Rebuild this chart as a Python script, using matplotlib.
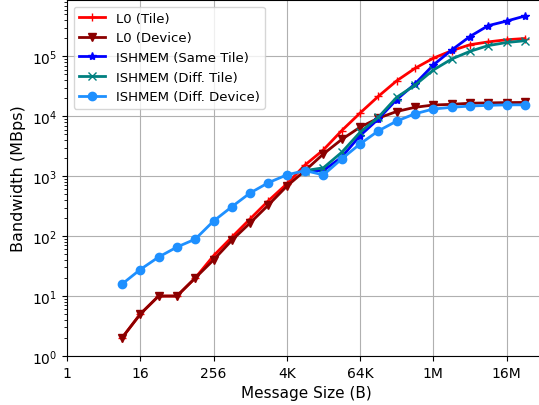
import matplotlib
matplotlib.use("Agg")
import matplotlib.pyplot as plt
from matplotlib.ticker import FixedLocator, FixedFormatter, NullLocator

# message sizes: 8 B .. 32 MB (powers of two)
sizes = [2 ** k for k in range(3, 26)]
ishmem_sizes = [2 ** k for k in range(13, 26)]

l0_tile = [2, 5, 10, 10, 20, 47, 96, 194, 390, 744, 1540, 2750, 5760, 11300,
           21500, 39000, 63000, 93000, 124000, 156000, 174000, 189000, 198000]
l0_device = [2, 5, 10, 10, 20, 40, 85, 166, 331, 680, 1240, 2350, 4100, 6570,
             9300, 12000, 14100, 15400, 15800, 16500, 16700, 16900, 17000]
ishmem_same_tile = [1240, 1240, 2080, 4740, 9000, 19000, 34600, 71600,
                    127000, 214000, 325000, 387000, 470000]
ishmem_diff_tile = [1240, 1380, 2500, 5400, 9600, 20700, 33000, 59000,
                    90000, 121000, 151000, 170000, 182000]
ishmem_diff_device = [15.8, 27.7, 44.7, 65.6, 89, 178, 309, 525, 780, 1050,
                      1240, 1050, 1940, 3450, 5700, 8300, 11000, 13200, 14100,
                      14800, 15200, 15500, 15500]

xtick_vals = [2 ** k for k in range(0, 25, 4)]
xtick_labels = ["1", "16", "256", "4K", "64K", "1M", "16M"]

fig = plt.figure(figsize=(5.39, 4.06), dpi=100)
ax = fig.add_axes([67 / 539, 49 / 406, 478 / 539, 356 / 406])

lw = 2
ax.plot(sizes, l0_tile, color="red", marker="+", lw=lw, label="L0 (Tile)")
ax.plot(sizes, l0_device, color="darkred", marker="v", lw=lw, label="L0 (Device)")
ax.plot(ishmem_sizes, ishmem_same_tile, color="blue", marker="*", lw=lw,
        label="ISHMEM (Same Tile)")
ax.plot(ishmem_sizes, ishmem_diff_tile, color="teal", marker="x", lw=lw,
        label="ISHMEM (Diff. Tile)")
ax.plot(sizes, ishmem_diff_device, color="#1e90ff", marker="o", lw=lw,
        label="ISHMEM (Diff. Device)")

ax.set_xscale("log", base=2)
ax.set_yscale("log")
ax.set_xlim(1, 2 ** 26.1)
ax.set_ylim(1, 8.7e5)
ax.xaxis.set_major_locator(FixedLocator(xtick_vals))
ax.xaxis.set_major_formatter(FixedFormatter(xtick_labels))
ax.xaxis.set_minor_locator(NullLocator())
ax.grid(True, which="major", color="#b0b0b0", linewidth=0.8)

ax.set_xlabel("Message Size (B)", fontsize=11)
ax.set_ylabel("Bandwidth (MBps)", fontsize=11.5)
ax.legend(loc="upper left", fontsize=9.5)

fig.savefig("out.png", dpi=100)
